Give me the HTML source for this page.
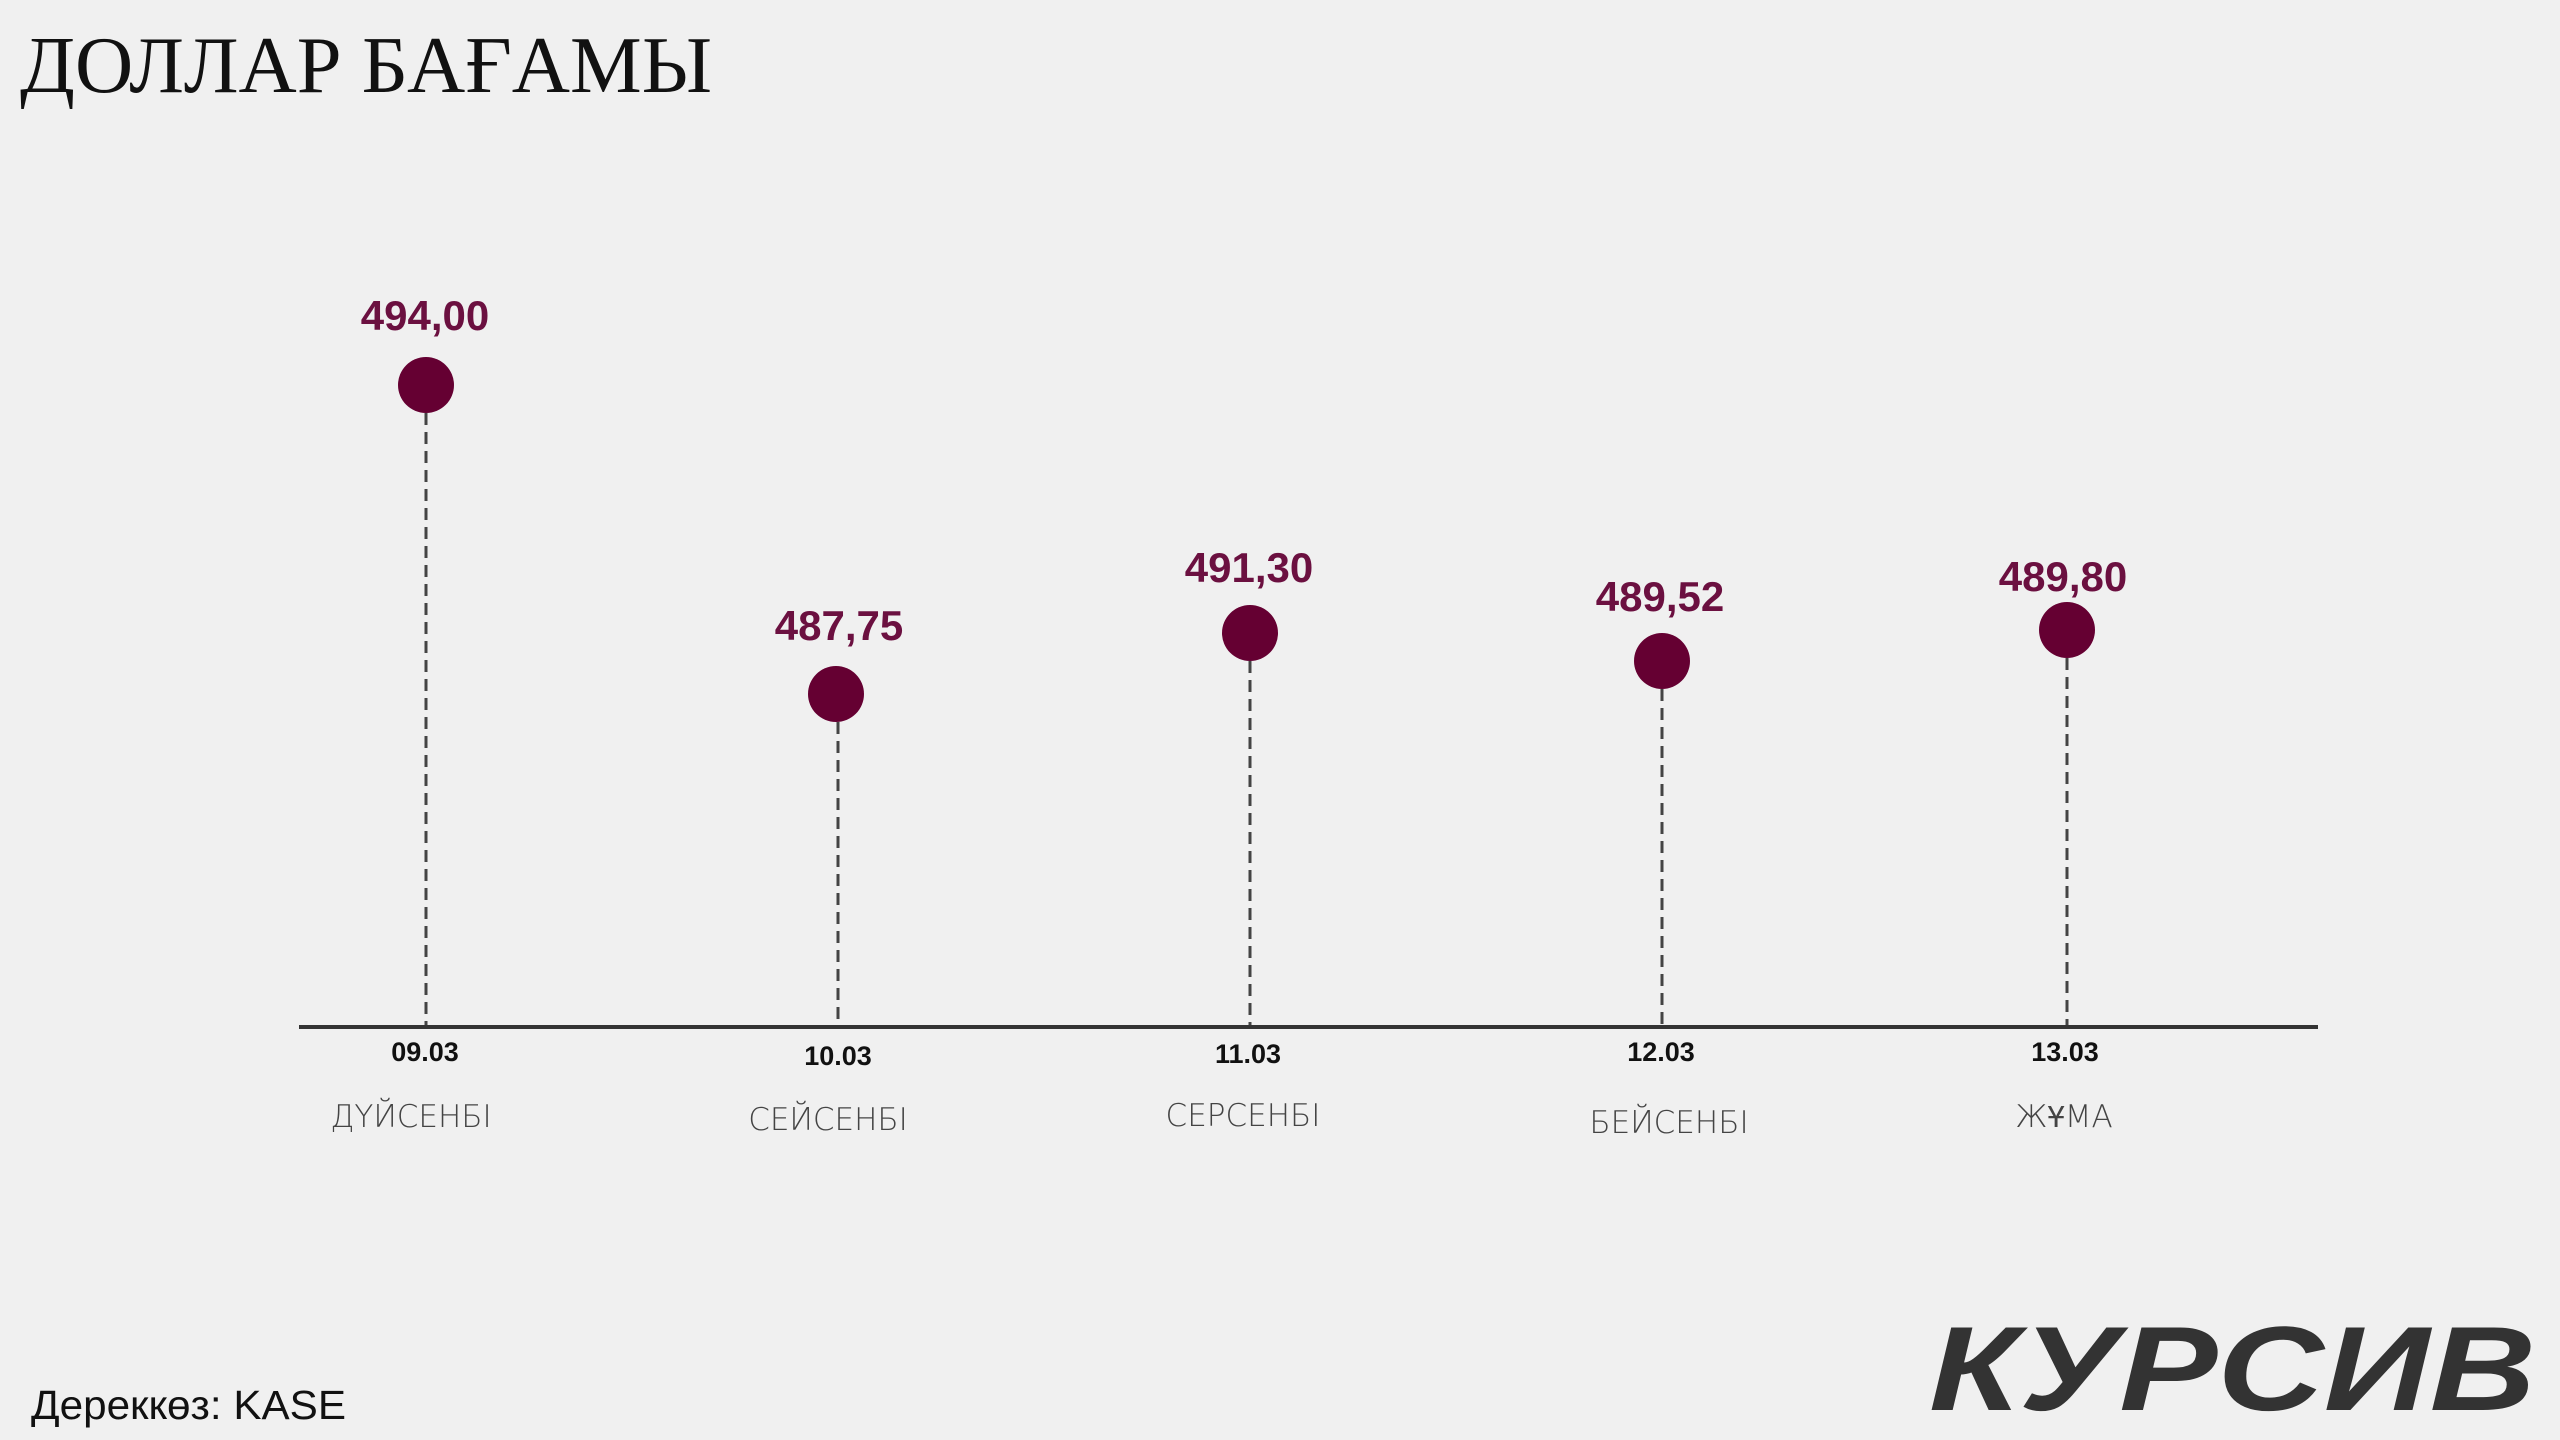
<!DOCTYPE html>
<html><head><meta charset="utf-8"><style>
html,body{margin:0;padding:0;background:#f0f0f0;}
svg{display:block;}
</style></head><body>
<svg width="2560" height="1440" viewBox="0 0 2560 1440" xmlns="http://www.w3.org/2000/svg">
<rect width="2560" height="1440" fill="#f0f0f0"/>
<text x="20" y="92" font-family="Liberation Serif, serif" font-size="80" fill="#111" textLength="692" lengthAdjust="spacingAndGlyphs">ДОЛЛАР БАҒАМЫ</text>
<g stroke="#444" stroke-width="3" stroke-dasharray="12 7">
<line x1="426" y1="413" x2="426" y2="1025"/>
<line x1="838" y1="722" x2="838" y2="1025"/>
<line x1="1250" y1="661" x2="1250" y2="1025"/>
<line x1="1662" y1="689" x2="1662" y2="1025"/>
<line x1="2067" y1="658" x2="2067" y2="1025"/>
</g>
<line x1="299" y1="1027" x2="2318" y2="1027" stroke="#333" stroke-width="4"/>
<g fill="#650032">
<circle cx="426" cy="385" r="28"/>
<circle cx="836" cy="694" r="28"/>
<circle cx="1250" cy="633" r="28"/>
<circle cx="1662" cy="661" r="28"/>
<circle cx="2067" cy="630" r="28"/>
</g>
<g font-family="Liberation Sans, sans-serif" font-weight="bold" font-size="42" fill="#6b1040" text-anchor="middle">
<text x="425" y="330">494,00</text>
<text x="839" y="640">487,75</text>
<text x="1249" y="582">491,30</text>
<text x="1660" y="611">489,52</text>
<text x="2063" y="591">489,80</text>
</g>
<g font-family="Liberation Sans, sans-serif" font-weight="bold" font-size="27" fill="#111" text-anchor="middle">
<text x="425" y="1061">09.03</text>
<text x="838" y="1065">10.03</text>
<text x="1248" y="1063">11.03</text>
<text x="1661" y="1061">12.03</text>
<text x="2065" y="1061">13.03</text>
</g>
<g font-family="DejaVu Sans, sans-serif" font-weight="200" font-size="31" fill="#444" text-anchor="middle">
<text x="411" y="1127">ДҮЙСЕНБІ</text>
<text x="828" y="1130">СЕЙСЕНБІ</text>
<text x="1243" y="1126">СЕРСЕНБІ</text>
<text x="1669" y="1133">БЕЙСЕНБІ</text>
<text x="2064" y="1127">ЖҰМА</text>
</g>
<text x="31" y="1419" font-family="Liberation Sans, sans-serif" font-size="41" fill="#111" textLength="315" lengthAdjust="spacingAndGlyphs">Дереккөз: KASE</text>
<text x="1929" y="1410" font-family="Liberation Sans, sans-serif" font-weight="bold" font-style="italic" font-size="120" fill="#333" textLength="607" lengthAdjust="spacingAndGlyphs">КУРСИВ</text>
</svg>
</body></html>
